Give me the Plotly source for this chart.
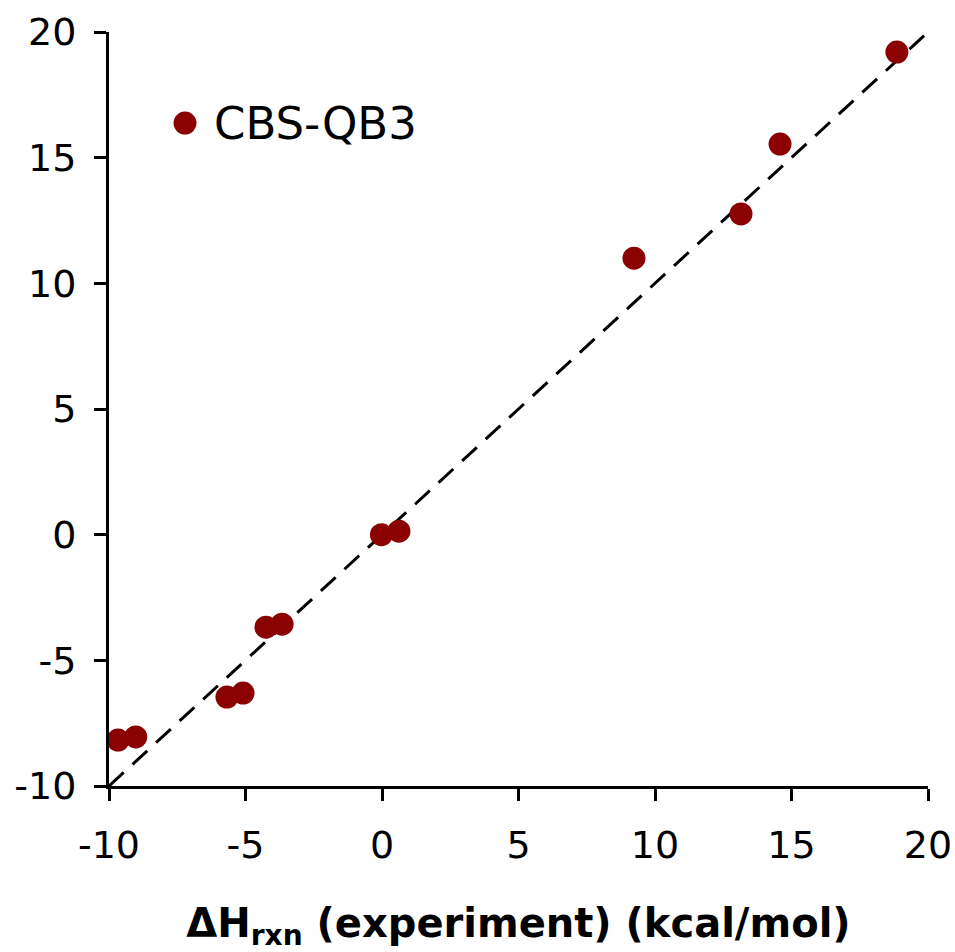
import plotly.graph_objects as go

x_exp = [-9.67, -9.02, -5.68, -5.09, -4.25, -3.66, -0.02, 0.62, 9.23, 13.15, 14.58, 18.86]
y_calc = [-8.17, -8.05, -6.46, -6.30, -3.68, -3.56, 0.0, 0.14, 11.0, 12.76, 15.54, 19.2]
parity = [-10, 20]
ticks = [-10, -5, 0, 5, 10, 15, 20]
tick_text = ["-10", "-5", "0", "5", "10", "15", "20"]
series_name = "CBS-QB3"
x_title = "<b>ΔH<sub>rxn</sub> (experiment) (kcal/mol)</b>"

marker_color = "#8B0000"
font_family = "DejaVu Sans, Verdana, sans-serif"

fig = go.Figure()
fig.add_trace(go.Scatter(x=parity, y=parity, mode="lines",
                         line=dict(color="black", width=3, dash="20px,12px"),
                         showlegend=False, hoverinfo="skip", cliponaxis=False))
fig.add_trace(go.Scatter(x=x_exp, y=y_calc, mode="markers", name=series_name,
                         marker=dict(color=marker_color, size=23, line=dict(width=0)),
                         showlegend=False, cliponaxis=False))

axis_common = dict(range=[-10, 20], tickvals=ticks, ticktext=tick_text,
                   showline=True, linewidth=3, automargin=False,
                   linecolor="black", ticks="outside", ticklen=12, tickwidth=3,
                   tickcolor="black", showgrid=False, zeroline=False,
                   tickfont=dict(family=font_family, size=38, color="black"))
fig.update_layout(
    width=955, height=952,
    margin=dict(l=109, r=27, t=32, b=166),
    paper_bgcolor="white", plot_bgcolor="white",
    font=dict(family=font_family, color="black"),
    xaxis=dict(**axis_common, ticklabelstandoff=11,
               title=dict(text=x_title, standoff=47,
                          font=dict(family=font_family, size=40, color="black"))),
    yaxis=dict(**axis_common, ticklabelstandoff=10),
    showlegend=False,
)
# legend key (drawn manually to keep the reference's large symbol)
fig.add_shape(type="circle", xref="paper", yref="paper",
              xsizemode="pixel", ysizemode="pixel",
              xanchor=0.0928, yanchor=0.8793, x0=-11.5, x1=11.5, y0=-11.5, y1=11.5,
              fillcolor=marker_color, line=dict(width=0))
fig.add_annotation(text=series_name, xref="paper", yref="paper",
                   x=0.126, y=0.879, xanchor="left", yanchor="middle",
                   showarrow=False,
                   font=dict(family=font_family, size=45, color="black"))
fig.write_html("out.html")
